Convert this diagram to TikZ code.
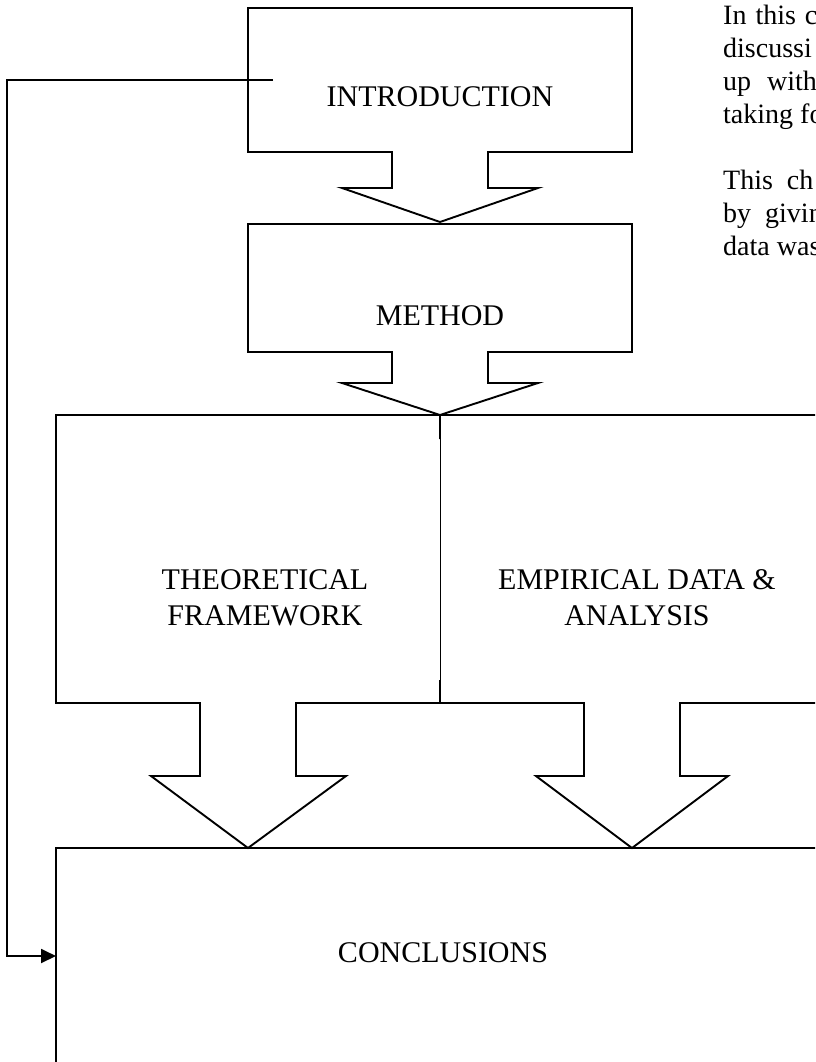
\documentclass[tikz,border=0pt]{standalone}
\usepackage{fontspec}
\setmainfont{Liberation Serif}
\usetikzlibrary{arrows.meta}
\tikzset{blockline/.style={line width=1.9pt, line join=miter},
   boxtext/.style={font=\fontsize{30}{36}\selectfont, align=center, inner sep=0pt},
   notetext/.style={font=\fontsize{28}{33}\selectfont, align=left, anchor=north west, inner sep=0pt}}

\begin{document}
\begin{tikzpicture}[x=1pt, y=-1pt]
\useasboundingbox (0,0) rectangle (815,1062);
\clip (0,0) rectangle (815,1062);

% blocks with their arrows
\draw[blockline] (248,8)--(632,8)--(632,152)--(488,152)--(488,188)--(538,188)--(440,222)--(342,188)--(392,188)--(392,152)--(248,152)--cycle;
\draw[blockline] (248,224)--(632,224)--(632,352)--(488,352)--(488,383)--(538,383)--(440,415)--(342,383)--(392,383)--(392,352)--(248,352)--cycle;
\draw[blockline] (440,680)--(440,703)--(296,703)--(296,776)--(346,776)--(248,848)--(151,776)--(200,776)--(200,703)--(56,703)--(56,415)--(440,415)--(440,439);
\draw[blockline] (440,415)--(840,415)--(840,703)--(680,703)--(680,776)--(728,776)--(632,848)--(536,776)--(584,776)--(584,703)--(440,703);
\draw[line width=1pt] (440,415)--(440,703);
\draw[blockline] (56,1080)--(56,848)--(840,848);

\node[boxtext, anchor=base] (intro) at (440,107) {INTRODUCTION};
\node[boxtext, anchor=base] (method) at (440,325) {METHOD};
\node[boxtext] (theory) at (265,598) {THEORETICAL\\FRAMEWORK};
\node[boxtext] (empirical) at (637,598) {EMPIRICAL DATA \&\\ANALYSIS};
\node[boxtext, anchor=base] (concl) at (443,962) {CONCLUSIONS};

\node[notetext] (note) at (723,5) {In\hspace{9pt}this\hspace{9pt}c\\discussi\\up\hspace{16pt}with\\taking fo\\[33pt]This\hspace{14pt}ch\\by\hspace{14pt}givin\\data was};

% feedback to the conclusions
\coordinate (fbstart) at (273,80);
\coordinate (conclin) at (56,956);
\draw[line width=1.9pt, -{Triangle[length=15pt, width=14pt]}] (fbstart) -- (7,80) |- (conclin);
\end{tikzpicture}
\end{document}
